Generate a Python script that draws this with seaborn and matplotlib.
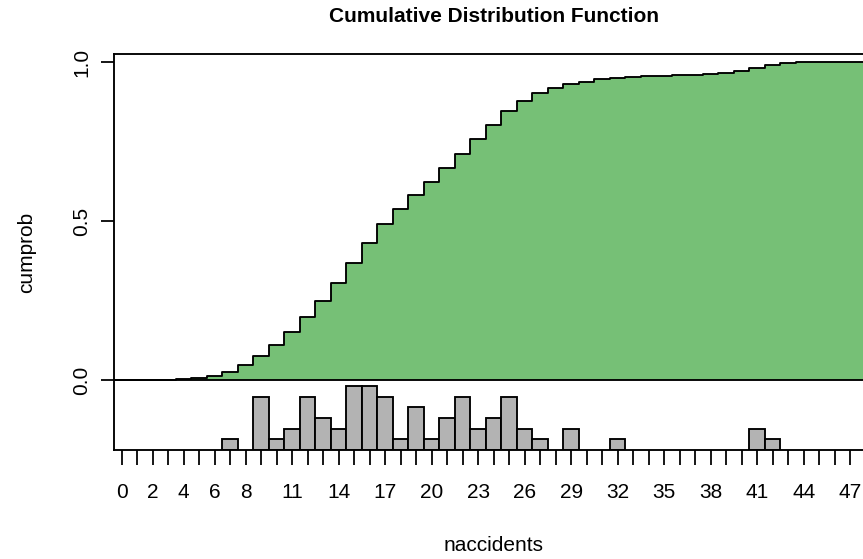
import numpy as np
import matplotlib
matplotlib.use("Agg")
import matplotlib.pyplot as plt
import seaborn as sns

# number of accidents (support of the distribution)
naccidents = list(range(0, 49))

# cumulative probability at each value
cumprob = [0.000, 0.000, 0.000, 0.001, 0.004, 0.007, 0.013, 0.025, 0.048, 0.077,
           0.111, 0.151, 0.198, 0.250, 0.305, 0.369, 0.432, 0.490, 0.538, 0.582,
           0.623, 0.667, 0.711, 0.759, 0.804, 0.846, 0.877, 0.902, 0.918, 0.931,
           0.939, 0.946, 0.952, 0.955, 0.957, 0.958, 0.959, 0.960, 0.962, 0.966,
           0.972, 0.981, 0.991, 0.997, 1.000, 1.000, 1.000, 1.000, 1.000]

# observed frequencies shown as a rug histogram under the curve
obs_values = [7, 9, 10, 11, 12, 13, 14, 15, 16, 17, 18, 19, 20, 21, 22, 23,
              24, 25, 26, 27, 29, 32, 41, 42]
obs_counts = [1, 5, 1, 2, 5, 3, 2, 6, 6, 5, 1, 4, 1, 3, 5, 2,
              3, 5, 2, 1, 2, 1, 2, 1]

xtick_labels = [0, 2, 4, 6, 8, 11, 14, 17, 20, 23, 26, 29, 32, 35, 38, 41, 44, 47]
ytick_values = [0.0, 0.5, 1.0]

sns.set_style("white")
plt.rcParams["font.family"] = ["Liberation Sans", "DejaVu Sans"]
plt.rcParams.update({"text.color": "black", "axes.labelcolor": "black",
                     "xtick.color": "black", "ytick.color": "black"})

W, H = 863, 559
fig = plt.figure(figsize=(W / 100, H / 100), dpi=100)
left_px, right_px, top_px, bot_px = 113.95, 873.4, 54.3, 450.0
ax = fig.add_axes([left_px / W, 1 - bot_px / H,
                   (right_px - left_px) / W, (bot_px - top_px) / H])

LW = 1.35
green = "#76C076"
y_low = -0.2203
bar_scale = 0.0336

# step CDF: edges at half-integers
edges = np.arange(-0.5, len(naccidents) + 0.5, 1.0)
step_y = np.array(cumprob + [cumprob[-1]])
ax.fill_between(edges, 0, step_y, step="post", color=green, lw=0, zorder=1)
sns.lineplot(x=edges, y=step_y, drawstyle="steps-post", color="black",
             lw=LW, ax=ax, zorder=3, estimator=None, sort=False)
ax.axhline(0, color="black", lw=LW, zorder=4)

# histogram of observations hanging under the axis
ax.bar(obs_values, np.array(obs_counts) * bar_scale, width=1.0, bottom=y_low,
       color="#B3B3B3", edgecolor="black", linewidth=LW, zorder=2)

ax.set_xlim(-0.5, 48.5)
ax.set_ylim(y_low, 1.0252)

ax.set_xticks(naccidents)
ax.set_xticklabels([str(v) if v in xtick_labels else "" for v in naccidents])
ax.set_yticks(ytick_values)
ax.set_yticklabels(["0.0", "0.5", "1.0"], rotation=90, va="center")

ax.tick_params(axis="x", bottom=True, direction="out", length=10.8,
               width=LW * 0.95, pad=13, labelsize=15, color="black",
               labelcolor="black")
ax.tick_params(axis="y", left=True, direction="out", length=9.4,
               width=LW * 0.95, pad=7, labelsize=15, color="black",
               labelcolor="black")

for side in ["left", "top", "bottom", "right"]:
    ax.spines[side].set_color("black")
    ax.spines[side].set_linewidth(LW)
ax.set_xlabel("")
ax.set_ylabel("")

ax.set_title("Cumulative Distribution Function", fontsize=15,
             fontweight="bold", pad=23, color="black")
fig.text(493.7 / W, 8 / H, "naccidents", fontsize=15, ha="center",
         va="baseline", color="black")
fig.text(27 / W, 1 - 252 / H, "cumprob", fontsize=15, ha="center",
         va="center", rotation=90, color="black")

fig.savefig("out.png", dpi=100)
